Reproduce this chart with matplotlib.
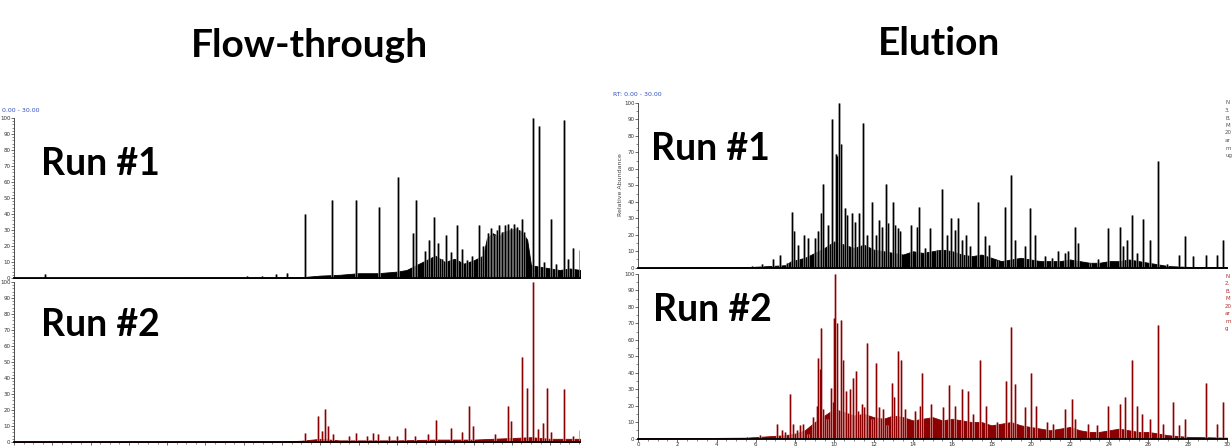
import matplotlib
matplotlib.use("Agg")
import matplotlib.pyplot as plt
from matplotlib.ticker import MultipleLocator

# ---- data (retention time in min, relative abundance in %) ----
# Flow-through, run 1
ft1_rt = [1.62, 12.17, 12.95, 13.68, 14.26, 15.20, 16.59, 17.86, 19.04, 20.04,
          20.82, 20.98, 21.45, 21.67, 21.92, 22.14, 22.35, 22.56, 22.82, 23.12,
          23.39, 23.65, 23.92, 24.28, 24.49, 24.75, 24.90, 25.05, 25.20, 25.35,
          25.50, 25.65, 25.80, 25.95, 26.10, 26.25, 26.40, 26.53, 26.65, 27.12,
          27.43, 27.70, 28.03, 28.30, 28.72, 28.95, 29.19, 29.56]
ft1_ht = [2.5, 1, 1.5, 2.5, 3, 40, 49, 49, 44.5, 63,
          28, 49, 17, 24, 38, 22, 12, 27, 16, 33,
          18, 11, 14, 33, 20, 28, 31, 27, 30, 33,
          29, 33, 34, 31, 34, 32, 30, 37, 29, 100,
          95, 10, 37, 9, 99, 12, 19, 17.5]
ft1_base_rt = [0, 12, 15, 16, 17, 18, 19, 20, 20.5, 21.0, 21.5, 22.0, 22.5, 23.0, 23.5,
               24.0, 24.5, 24.7, 25.0, 25.3, 25.6, 25.9, 26.2, 26.5, 26.8, 27.0, 27.5,
               28.0, 28.5, 29.0, 29.6]
ft1_base_ht = [0, 0.3, 0.5, 1.5, 2, 3, 3, 4, 5, 8, 11, 14, 10, 12, 9,
               11, 14, 25, 28, 26, 29, 30, 31, 29, 24, 8, 7,
               6, 5, 6, 5]

# Flow-through, run 2
ft2_rt = [15.20, 15.86, 16.07, 16.24, 16.40, 16.64, 17.49, 17.86, 18.43, 18.75,
          18.99, 19.58, 20.00, 20.42, 20.94, 21.60, 22.02, 22.80, 23.38, 23.78,
          23.97, 25.12, 25.81, 25.95, 26.54, 26.77, 27.12, 27.36, 27.62, 27.82,
          28.03, 28.72, 29.19, 29.56]
ft2_ht = [5.6, 16, 7, 20.5, 10, 5, 4, 5.6, 4, 5.5,
          5, 3.5, 4, 8.5, 3.5, 5, 14, 9, 6, 22.5,
          10, 5, 22.5, 13, 53, 34, 100, 8, 12, 34,
          6, 33, 4, 7.5]
ft2_base_rt = [0, 14, 15, 16, 17, 18, 20, 22, 24, 25, 26, 27, 28, 29, 29.6]
ft2_base_ht = [0.3, 0.3, 0.8, 2, 1, 1, 1, 1.5, 1.5, 2, 2.5, 3, 2, 2, 2]

# Elution, run 1
el1_rt = [5.79, 6.30, 6.88, 7.23, 7.59, 7.84, 7.95, 8.15, 8.46, 8.66,
          9.02, 9.18, 9.31, 9.41, 9.69, 9.90, 10.07, 10.15, 10.24, 10.33,
          10.54, 10.63, 10.89, 11.05, 11.27, 11.48, 11.65, 11.90, 12.12, 12.29,
          12.41, 12.63, 12.74, 12.97, 13.09, 13.26, 13.35, 13.89, 14.20, 14.33,
          14.62, 14.87, 15.22, 15.47, 15.76, 15.94, 16.15, 16.29, 16.49, 16.71,
          16.91, 17.30, 17.68, 17.88, 18.27, 18.70, 18.99, 19.20, 19.71, 19.97,
          20.24, 20.73, 21.07, 21.41, 21.75, 21.92, 22.26, 22.43, 23.02, 23.45,
          23.93, 24.55, 24.72, 24.89, 25.15, 25.40, 25.74, 26.08, 26.47, 26.93,
          27.57, 27.86, 28.26, 28.92, 29.48, 29.78]
el1_ht = [1, 2, 5, 8, 3, 34, 22, 14, 20, 18,
          18, 22, 33, 51, 26, 90, 69, 68, 100, 75,
          36, 32, 33, 28, 33, 88, 20, 40, 20, 29,
          25, 51, 27, 40, 26, 24, 22, 26, 25, 37,
          12, 24, 11, 48, 20, 30, 23, 30, 17, 20,
          13, 40, 19, 14, 4.5, 37, 56, 17, 13, 36,
          20, 7, 6, 10, 9, 10, 25, 15, 3, 5,
          24, 25, 13, 17, 32, 9, 29.5, 17, 65, 2,
          7.5, 19.5, 7, 8, 7.5, 17]
el1_base_rt = [0, 5.5, 7.5, 7.8, 8.5, 9.0, 9.5, 10.0, 10.5, 11.0, 11.5, 12.0, 12.5,
               13.0, 13.5, 14.0, 14.5, 15.0, 15.5, 16.0, 16.5, 17.0, 17.5, 18.0, 18.5,
               19.0, 19.5, 20.0, 20.5, 21.0, 21.5, 22.0, 22.5, 23.0, 23.5, 24.0, 24.5,
               25.0, 25.5, 26.0, 26.5, 27.0, 28.0, 30.0]
el1_base_ht = [0, 0.3, 1.5, 4, 6, 9, 12, 16, 14, 12, 14, 11, 10,
               9, 8, 10, 9, 10, 11, 10, 8, 7, 8, 6, 4,
               5, 6, 5, 4, 4, 4, 5, 4, 3, 3, 4, 4,
               5, 4, 3, 2, 1, 0.5, 0.3]

# Elution, run 2
el2_rt = [5.54, 6.21, 7.07, 7.32, 7.49, 7.74, 7.87, 8.08, 8.25, 8.42,
          8.68, 8.93, 9.10, 9.15, 9.27, 9.32, 9.44, 9.61, 9.83, 9.95,
          10.00, 10.04, 10.15, 10.33, 10.46, 10.58, 10.80, 10.97, 11.09, 11.22,
          11.40, 11.53, 11.68, 11.90, 12.11, 12.29, 12.50, 12.70, 12.92, 13.04,
          13.22, 13.38, 13.60, 14.11, 14.36, 14.48, 14.91, 15.55, 15.84, 16.15,
          16.49, 16.83, 17.08, 17.42, 17.73, 18.27, 18.73, 19.00, 19.20, 19.71,
          20.02, 20.27, 20.82, 21.16, 21.75, 22.09, 22.26, 22.94, 23.37, 23.96,
          24.55, 24.81, 25.15, 25.40, 25.69, 26.08, 26.47, 26.76, 27.24, 27.57,
          27.86, 28.92, 29.48, 29.78]
el2_ht = [1, 2, 9, 5, 4, 27, 9, 5, 8, 9,
          3, 13, 20, 49, 42, 67, 18, 12, 31, 22,
          73, 100, 70, 72, 48, 29, 30, 37, 41, 17,
          21, 19, 58, 12, 46, 19, 18, 8, 34, 25,
          53, 48, 18, 17, 20, 40, 21, 19, 32.5, 20,
          30, 29, 15, 48, 20, 10, 35, 68, 33, 19,
          40, 20, 10, 9, 18, 24, 12, 9, 8, 19.5,
          21, 25, 47.5, 20, 15, 12, 69, 9, 22, 8,
          12, 34, 9, 22]
el2_base_rt = [0, 5.5, 7.5, 8.0, 8.5, 9.0, 9.5, 10.0, 10.5, 11.0, 11.5, 12.0, 12.5,
               13.0, 13.5, 14.0, 14.5, 15.0, 15.5, 16.0, 16.5, 17.0, 17.5, 18.0, 18.5,
               19.0, 19.5, 20.0, 20.5, 21.0, 21.5, 22.0, 22.5, 23.0, 23.5, 24.0, 24.5,
               25.0, 25.5, 26.0, 26.5, 27.0, 28.0, 30.0]
el2_base_ht = [0, 0.5, 2, 3, 5, 10, 14, 18, 16, 14, 15, 13, 12,
               14, 13, 11, 12, 13, 11, 12, 11, 10, 10, 8, 9,
               10, 8, 7, 6, 5, 6, 7, 5, 4, 4, 5, 6,
               5, 4, 4, 3, 2, 1, 0.5]

info_run1 = ["N", "3.", "B.", "M", "20", "ar", "m", "ug"]
info_run2 = ["N", "2.", "B.", "M", "20", "ar", "m", "g"]

W, H = 1232, 448
fig = plt.figure(figsize=(W / 100, H / 100), dpi=100)
title_font = ["Lato", "Open Sans", "DejaVu Sans"]


def px_axes(x0, x1, y_top, y_bot):
    return fig.add_axes([x0 / W, (H - y_bot) / H, (x1 - x0) / W, (y_bot - y_top) / H])


def draw_trace(ax, rt, ht, base_rt, base_ht, dark, light):
    # light halo first, so the filled baseline covers it
    ax.vlines(rt, 0, ht, color=light, lw=1.8)
    ax.fill_between(base_rt, 0, base_ht, color=dark, lw=0.6, edgecolor=dark)
    ax.vlines(rt, 0, ht, color=dark, lw=0.8)
    ax.axhline(0, color=dark, lw=0.8)


def style(ax, xmax, minor_y, xlabels):
    ax.set_xlim(0, xmax)
    ax.set_ylim(0, 100)
    ax.patch.set_visible(False)
    ax.spines['top'].set_visible(False)
    ax.spines['right'].set_visible(False)
    ax.spines['left'].set_linewidth(0.6)
    ax.spines['left'].set_color('#333333')
    ax.spines['bottom'].set_linewidth(1.3)
    ax.yaxis.set_major_locator(MultipleLocator(10))
    ax.yaxis.set_minor_locator(MultipleLocator(minor_y))
    ax.tick_params(axis='y', which='major', labelsize=4, length=2, width=0.5,
                   pad=0.5, colors='#333333')
    ax.tick_params(axis='y', which='minor', length=1.2, width=0.4, colors='#333333')
    ax.xaxis.set_major_locator(MultipleLocator(2))
    ax.xaxis.set_minor_locator(MultipleLocator(0.5))
    ax.tick_params(axis='x', which='major', labelsize=4, length=2, width=0.5,
                   pad=0.5, colors='#333333', labelbottom=xlabels)
    ax.tick_params(axis='x', which='minor', length=1.2, width=0.4, colors='#333333')


ax_ft1 = px_axes(14, 580, 118, 278)
ax_ft2 = px_axes(14, 580, 282, 442)
ax_el1 = px_axes(638, 1227, 103, 267.7)
ax_el2 = px_axes(638, 1227, 274, 438.5)

draw_trace(ax_ft1, ft1_rt, ft1_ht, ft1_base_rt, ft1_base_ht, 'black', '#8c8c8c')
draw_trace(ax_ft2, ft2_rt, ft2_ht, ft2_base_rt, ft2_base_ht, '#8b0000', '#d49a9a')
draw_trace(ax_el1, el1_rt, el1_ht, el1_base_rt, el1_base_ht, 'black', '#8c8c8c')
draw_trace(ax_el2, el2_rt, el2_ht, el2_base_rt, el2_base_ht, '#8b0000', '#d49a9a')

style(ax_ft1, 29.56, 2, False)
style(ax_ft2, 29.56, 2, False)
style(ax_el1, 30, 5, False)
style(ax_el2, 30, 5, True)
ax_ft1.tick_params(axis='x', which='both', length=0)
ax_el1.tick_params(axis='x', which='both', length=0)

# titles and run labels
fig.text(309 / W, (H - 57) / H, "Flow-through", ha='center', va='baseline',
         fontsize=28, fontweight='bold', family=title_font)
fig.text(939 / W, (H - 55) / H, "Elution", ha='center', va='baseline',
         fontsize=28, fontweight='bold', family=title_font)
for x, y, s in [(41, 175, "Run #1"), (41, 336, "Run #2"),
                (651, 160, "Run #1"), (653, 321, "Run #2")]:
    fig.text(x / W, (H - y) / H, s, ha='left', va='baseline',
             fontsize=27, fontweight='bold', family=title_font)

# small instrument annotations
fig.text(2 / W, (H - 111) / H, "0.00 - 30.00", color='#2f4fbf', fontsize=4.5, va='center')
fig.text(613 / W, (H - 95) / H, "RT: 0.00 - 30.00", color='#2f4fbf', fontsize=4.5, va='center')
fig.text(620 / W, (H - 185) / H, "Relative Abundance", color='#444444', fontsize=4.5,
         rotation=90, ha='center', va='center')
for i, s in enumerate(info_run1):
    fig.text(1225 / W, (H - 103 - i * 7.5) / H, s, color='#555555', fontsize=4, va='center')
for i, s in enumerate(info_run2):
    fig.text(1225 / W, (H - 276 - i * 7.5) / H, s, color='#b03030', fontsize=4, va='center')

fig.savefig("out.png", dpi=100, facecolor='white')
